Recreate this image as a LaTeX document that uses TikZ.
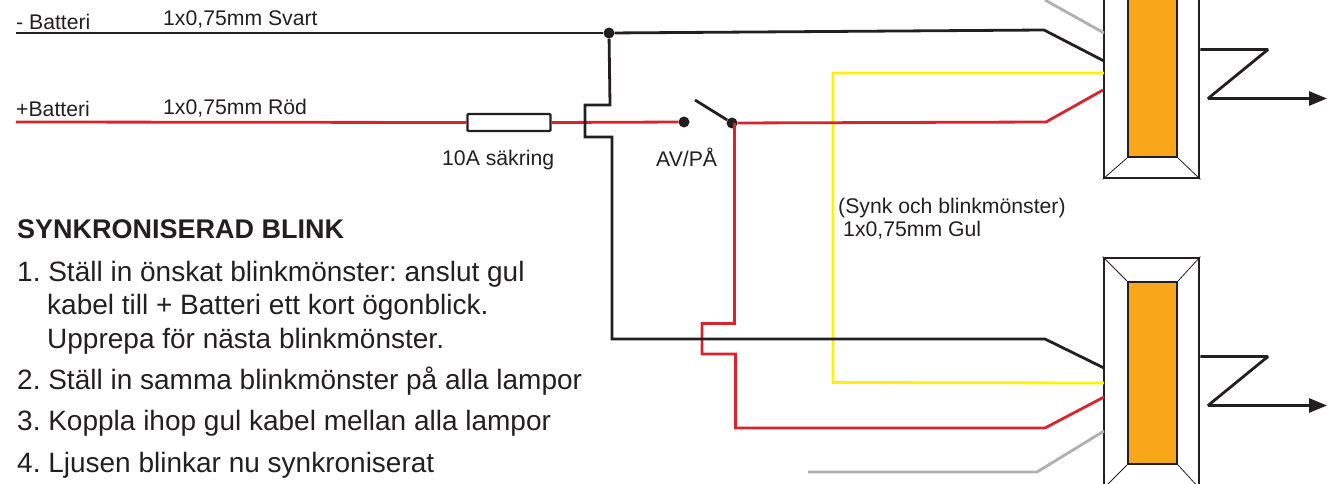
\documentclass[tikz,border=0pt]{standalone}
\usepackage{fontspec}
\setmainfont{Liberation Sans}
\usetikzlibrary{arrows.meta}
\definecolor{inkblack}{HTML}{231F20}
\definecolor{wirered}{HTML}{D9232E}
\definecolor{wireyellow}{HTML}{FFF200}
\definecolor{wiregray}{HTML}{B0B0B0}
\definecolor{coreorange}{HTML}{FAA61A}
\tikzset{
  wire/.style={line width=2.8pt, line join=miter},
  blackwire/.style={wire, draw=inkblack},
  redwire/.style={wire, draw=wirered},
  yellowwire/.style={wire, draw=wireyellow},
  graywire/.style={wire, draw=wiregray},
  outwire/.style={wire, line join=bevel, draw=inkblack, -{Triangle[length=18pt,width=14pt]}},
  dot/.style={circle, fill=inkblack, inner sep=0pt, minimum size=11pt},
  fuse/.style={draw=inkblack, line width=2.2pt, rounded corners=1pt, fill=white, inner sep=0pt, minimum width=83pt, minimum height=17pt},
  lamp/.style={draw=inkblack, line width=2.8pt, fill=white, inner sep=0pt, minimum width=95pt, minimum height=230pt},
  core/.style={draw=inkblack, line width=2.2pt, fill=coreorange, inner sep=0pt, minimum width=49pt, minimum height=182pt},
  label/.style={anchor=base west, inner sep=0pt, text=inkblack, font=\fontsize{21.2}{24}\selectfont},
  steptext/.style={anchor=base west, inner sep=0pt, text=inkblack, font=\fontsize{28}{32}\selectfont},
  headtext/.style={anchor=base west, inner sep=0pt, text=inkblack, font=\fontsize{27}{32}\selectfont\bfseries},
}
\frenchspacing
\begin{document}
\begin{tikzpicture}[x=1pt,y=-1pt]
\useasboundingbox (0,0) rectangle (1335,484);
\clip (0,0) rectangle (1335,484);

\node[lamp] (lampA) at (1151.5,63) {};
\node[core] (coreA) at (1152.5,66) {};
\node[lamp] (lampB) at (1151.5,373) {};
\node[core] (coreB) at (1152.5,373) {};
\draw[inkblack, line width=0.8pt] (lampA.south west) -- (coreA.south west);
\draw[inkblack, line width=0.8pt] (lampA.south east) -- (coreA.south east);
\draw[inkblack, line width=0.8pt] (lampB.north west) -- (coreB.north west);
\draw[inkblack, line width=0.8pt] (lampB.north east) -- (coreB.north east);
\draw[inkblack, line width=0.8pt] (lampB.south west) -- (coreB.south west);
\draw[inkblack, line width=0.8pt] (lampB.south east) -- (coreB.south east);

\coordinate (minusStart) at (16,33);
\coordinate (plusStart) at (16,122);
\coordinate (blackBendA) at (1044,30);
\coordinate (blackEndA) at (1104,61);
\coordinate (redBendA) at (1046,122);
\coordinate (redEndA) at (1103,90);
\coordinate (grayStartA) at (1045,0);
\coordinate (grayEndA) at (1104,33);
\coordinate (blackBendB) at (1045,339);
\coordinate (blackEndB) at (1104,368);
\coordinate (redBendB) at (1045,428);
\coordinate (redEndB) at (1104,397);
\coordinate (grayStartB) at (808,472);
\coordinate (grayBendB) at (1037,472);
\coordinate (grayEndB) at (1104,431);
\coordinate (yellowEndA) at (1104,73);
\coordinate (yellowEndB) at (1104,383);

\node[fuse] (fuseMain) at (509,122.5) {};
\node[dot] (dotJoin) at (609,33) {};
\node[dot] (dotOpen) at (684,122) {};
\node[dot] (dotSwitch) at (732,123) {};
\coordinate (switchTip) at (695,100);

\draw[yellowwire] (yellowEndA) -- (833,73) -- (833,382.5) -- (yellowEndB);
\draw[redwire] (plusStart) -- (fuseMain.west);
\draw[redwire] (fuseMain.east) -- (dotOpen);
\draw[redwire] (dotSwitch) -- (redBendA) -- (redEndA);
\draw[redwire] (734.5,123) -- (734.5,323.5) -| (702,354) -| (735.5,428) -- (redBendB) -- (redEndB);
\draw[blackwire] (minusStart) -- (dotJoin);
\draw[blackwire] (dotJoin) -- (blackBendA) -- (blackEndA);
\draw[blackwire] (dotJoin) -- (610,105) -- (585,105) -- (585,137) -- (612,137) -- (612,339) -- (blackBendB) -- (blackEndB);
\draw[blackwire] (dotSwitch) -- (switchTip);
\draw[graywire] (grayStartA) -- (grayEndA);
\draw[graywire] (grayStartB) -- (grayBendB) -- (grayEndB);

\draw[outwire] (lampA.east |- 0,49.5) -- (1268,49.5) -- (1208,98.5) -- (1327,98.5);
\draw[outwire] (lampB.east |- 0,356.5) -- (1268,356.5) -- (1208,405.5) -- (1327,405.5);

\node[label] (minusLabel) at (16,30) {- Batteri};
\node[label] (blackLabel) at (163,26) {1x0,75mm Svart};
\node[label] (plusLabel) at (16,117) {+Batteri};
\node[label] (redLabel) at (163,114) {1x0,75mm Röd};
\node[label] (fuseLabel) at (442,165) {10A säkring};
\node[label] (switchLabel) at (656,166) {AV/PÅ};
\node[label] (syncLabel) at (838,213) {(Synk och blinkmönster)};
\node[label] (yellowLabel) at (843,236) {1x0,75mm Gul};

\node[headtext] (headBlink) at (17,238) {SYNKRONISERAD BLINK};
\node[steptext] (stepOne) at (17,281) {1. Ställ in önskat blinkmönster: anslut gul};
\node[steptext] (stepOneB) at (47,314) {kabel till + Batteri ett kort ögonblick.};
\node[steptext] (stepOneC) at (47,348) {Upprepa för nästa blinkmönster.};
\node[steptext] (stepTwo) at (17,389) {2. Ställ in samma blinkmönster på alla lampor};
\node[steptext] (stepThree) at (17,430) {3. Koppla ihop gul kabel mellan alla lampor};
\node[steptext] (stepFour) at (17,472) {4. Ljusen blinkar nu synkroniserat};
\end{tikzpicture}
\end{document}
